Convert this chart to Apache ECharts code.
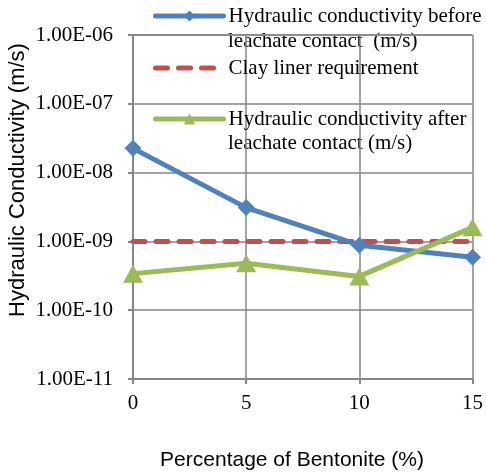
<!DOCTYPE html>
<html>
<head>
<meta charset="utf-8">
<script src="https://cdn.jsdelivr.net/npm/echarts@6/dist/echarts.min.js"></script>
<style>
  html, body { margin: 0; padding: 0; background: #fff; }
  #main { width: 486px; height: 473px; }
</style>
</head>
<body>
<div id="main"></div>
<script>
    // data
    var bentonite = [0, 5, 10, 15];
    var kBefore = [2.25e-8, 3.1e-9, 8.8e-10, 5.9e-10];
    var kRequired = [1e-9, 1e-9, 1e-9, 1e-9];
    var kAfter = [3.4e-10, 4.8e-10, 3.1e-10, 1.6e-9];
    var yTickLabels = ['1.00E-11', '1.00E-10', '1.00E-09', '1.00E-08', '1.00E-07', '1.00E-06'];
    var seriesNames = [
        'Hydraulic conductivity before\nleachate contact  (m/s)',
        'Clay liner requirement',
        'Hydraulic conductivity after\nleachate contact (m/s)'
    ];

    function pairs(ys) {
        var out = [];
        for (var i = 0; i < bentonite.length; i++) {
            out.push([bentonite[i], ys[i]]);
        }
        return out;
    }

    var serif = '"Liberation Serif", "Times New Roman", serif';
    var sans = '"Liberation Sans", Arial, sans-serif';
    var gray = '#868686';

    function legendAt(name, top, extra) {
        var l = {
            data: [name],
            left: 153,
            top: top,
            padding: 0,
            itemWidth: 68,
            itemHeight: 14,
            selectedMode: false,
            formatter: function (n) { return n.split('\n')[0]; },
            textStyle: { fontFamily: serif, fontSize: 21, color: '#000', lineHeight: 24 },
            lineStyle: { width: 5, cap: 'round' }
        };
        if (extra) {
            for (var k in extra) l[k] = extra[k];
        }
        return l;
    }

    var myChart = echarts.init(document.getElementById('main'));

    var option = {
        backgroundColor: '#fff',
        animation: false,
        grid: { left: 133, right: 13, top: 35, bottom: 94, containLabel: false },
        legend: [
            legendAt(seriesNames[0], 4),
            legendAt(seriesNames[1], 56, {
                itemStyle: { opacity: 0 },
                lineStyle: { width: 5, cap: 'round', type: [12, 11] }
            }),
            legendAt(seriesNames[2], 107)
        ],
        graphic: [
            { type: 'text', left: 228, top: 31, style: { text: 'leachate contact  (m/s)', font: '21px ' + serif, fill: '#000' } },
            { type: 'text', left: 228, top: 133, style: { text: 'leachate contact (m/s)', font: '21px ' + serif, fill: '#000' } },
            { type: 'text', x: 18, y: 180, rotation: Math.PI / 2,
              style: { text: 'Hydraulic Conductivity (m/s)', font: '22px ' + sans, fill: '#000', align: 'center', verticalAlign: 'middle' } },
            { type: 'text', x: 292, y: 460,
              style: { text: 'Percentage of Bentonite (%)', font: '21px ' + sans, fill: '#000', align: 'center', verticalAlign: 'middle' } }
        ],
        xAxis: {
            type: 'value',
            min: 0,
            max: 15,
            interval: 5,
            axisLine: { lineStyle: { color: gray, width: 2 } },
            axisTick: { show: true, length: 5, lineStyle: { color: gray, width: 2 } },
            axisLabel: { margin: 14, fontFamily: serif, fontSize: 21, color: '#000' },
            splitLine: { show: true, lineStyle: { color: gray, width: 1.5 } }
        },
        yAxis: {
            type: 'log',
            logBase: 10,
            min: 1e-11,
            max: 1e-6,
            splitNumber: 5,
            axisLine: { show: true, lineStyle: { color: gray, width: 2 } },
            axisTick: { show: true, length: 5, lineStyle: { color: gray, width: 2 } },
            axisLabel: {
                margin: 20,
                fontFamily: serif,
                fontSize: 21,
                color: '#000',
                formatter: function (v) {
                    var e = Math.round(Math.log(v) / Math.LN10);
                    return yTickLabels[e + 11] || '';
                }
            },
            splitLine: { show: true, lineStyle: { color: gray, width: 1.5 } }
        },
        series: [
            {
                name: seriesNames[0],
                type: 'line',
                data: pairs(kBefore),
                symbol: 'diamond',
                symbolSize: 17,
                color: '#4F81BD',
                lineStyle: { width: 5 },
                z: 3
            },
            {
                name: seriesNames[1],
                type: 'line',
                data: pairs(kRequired),
                symbol: 'none',
                color: '#C0504D',
                lineStyle: { width: 5, type: [12, 11], cap: 'round' },
                z: 2
            },
            {
                name: seriesNames[2],
                type: 'line',
                data: pairs(kAfter),
                symbol: 'triangle',
                symbolSize: [20, 18],
                color: '#9BBB59',
                lineStyle: { width: 5 },
                z: 4
            }
        ]
    };

    myChart.setOption(option);
</script>
</body>
</html>
